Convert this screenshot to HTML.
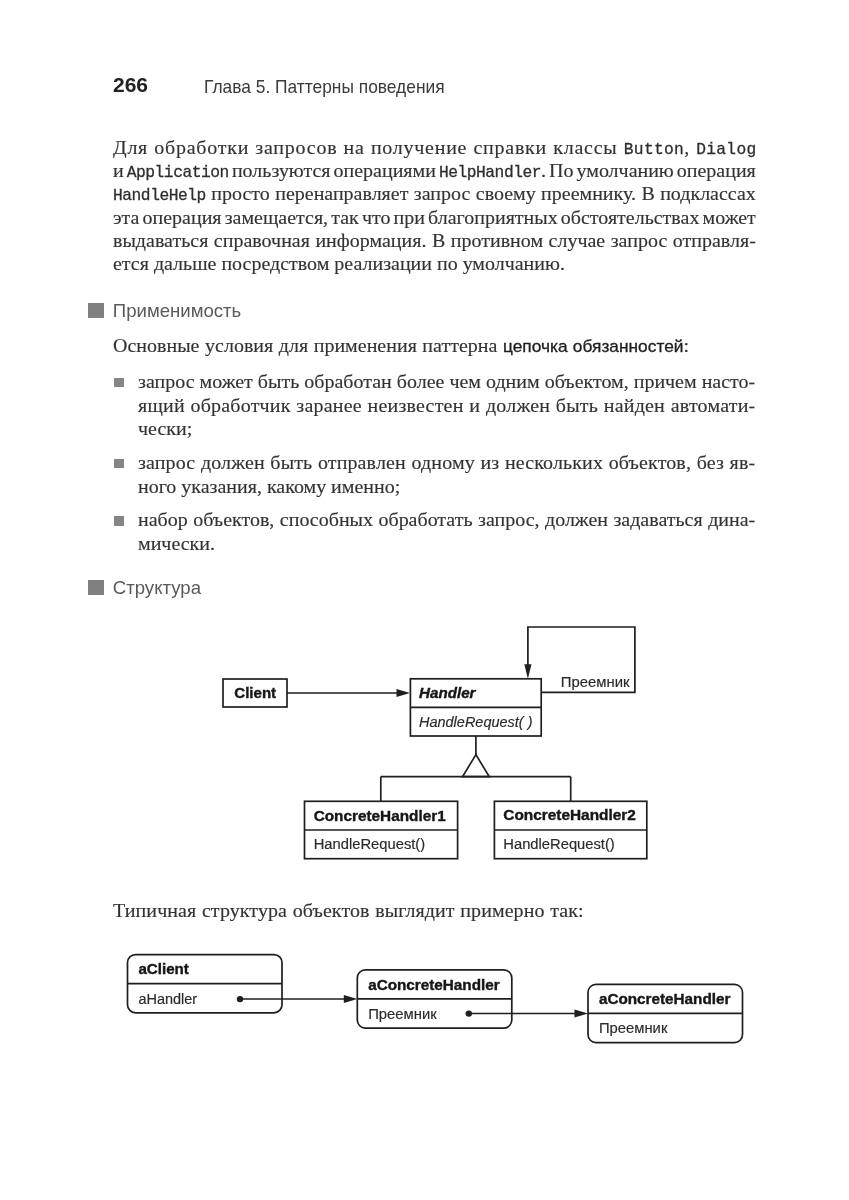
<!DOCTYPE html>
<html><head><meta charset="utf-8"><style>
html,body{margin:0;padding:0;background:#fff;}
body{width:849px;height:1200px;position:relative;overflow:hidden;filter:grayscale(1);}
.t{position:absolute;line-height:0;height:0;white-space:nowrap;color:#2e2e2e;}
.s{font-family:"Liberation Serif",serif;font-size:19.3px;-webkit-text-stroke:0.15px #333;color:#333;transform:scaleX(1.036);transform-origin:0 0;}
.j{}
.m{font-family:"Liberation Mono",monospace;font-size:15.7px;letter-spacing:-0.45px;-webkit-text-stroke:0.28px #2e2e2e;color:#2e2e2e;}
.m1{letter-spacing:0.3px;}
.k{font-family:"Liberation Sans",sans-serif;font-size:16.7px;color:#1e1e1e;-webkit-text-stroke:0.3px #1e1e1e;}
.pn{font-family:"Liberation Sans",sans-serif;font-size:21px;font-weight:bold;color:#222;}
.hd{font-family:"Liberation Sans",sans-serif;font-size:19px;color:#3a3a3a;transform:scaleX(0.914);transform-origin:0 0;}
.sh{font-family:"Liberation Sans",sans-serif;font-size:18.6px;color:#5a5a5a;}
.sq{position:absolute;width:15.5px;height:15px;background:#808080;}
.bs{position:absolute;width:10px;height:9.5px;background:#858585;}
svg{position:absolute;left:0;top:0;}
</style></head><body>
<div class="t pn" style="left:113.0px;top:85.20px;">266</div>
<div class="t hd" style="left:204.0px;top:87.20px;">Глава 5. Паттерны поведения</div>
<div class="t s j" style="left:112.8px;top:147.60px;width:620.46px;word-spacing:0.500px;letter-spacing:0.727px;">Для обработки запросов на получение справки классы <span class="m m1">Button</span>, <span class="m m1">Dialog</span></div>
<div class="t s j" style="left:112.8px;top:170.90px;width:620.46px;word-spacing:-1.898px;letter-spacing:0.000px;">и <span class="m">Application</span> пользуются операциями <span class="m">HelpHandler</span>. По умолчанию операция</div>
<div class="t s j" style="left:112.8px;top:194.10px;width:620.46px;word-spacing:0.430px;letter-spacing:0.000px;"><span class="m">HandleHelp</span> просто перенаправляет запрос своему преемнику. В подклассах</div>
<div class="t s j" style="left:112.8px;top:217.50px;width:620.46px;word-spacing:-1.780px;letter-spacing:0.000px;">эта операция замещается, так что при благоприятных обстоятельствах может</div>
<div class="t s j" style="left:112.8px;top:240.90px;width:620.46px;word-spacing:0.500px;letter-spacing:0.006px;">выдаваться справочная информация. В противном случае запрос отправля-</div>
<div class="t s" style="left:112.8px;top:264.20px;">ется дальше посредством реализации по умолчанию.</div>
<div class="sq" style="left:88px;top:303px;"></div>
<div class="t sh" style="left:112.8px;top:311.00px;">Применимость</div>
<div class="t s j" style="left:112.8px;top:346.00px;width:555.98px;word-spacing:0.500px;letter-spacing:0.015px;">Основные условия для применения паттерна <span class="k">цепочка обязанностей</span>:</div>
<div class="bs" style="left:114px;top:377.5px;"></div>
<div class="t s j" style="left:138.4px;top:381.60px;width:595.75px;word-spacing:0.047px;letter-spacing:0.000px;">запрос может быть обработан более чем одним объектом, причем насто-</div>
<div class="t s j" style="left:138.4px;top:405.60px;width:595.75px;word-spacing:0.500px;letter-spacing:0.200px;">ящий обработчик заранее неизвестен и должен быть найден автомати-</div>
<div class="t s" style="left:138.4px;top:429.10px;">чески;</div>
<div class="bs" style="left:114px;top:458.8px;"></div>
<div class="t s j" style="left:138.4px;top:462.80px;width:595.75px;word-spacing:0.500px;letter-spacing:0.128px;">запрос должен быть отправлен одному из нескольких объектов, без яв-</div>
<div class="t s" style="left:138.4px;top:486.70px;">ного указания, какому именно;</div>
<div class="bs" style="left:114px;top:516.2px;"></div>
<div class="t s j" style="left:138.4px;top:520.10px;width:595.75px;word-spacing:0.474px;letter-spacing:0.000px;">набор объектов, способных обработать запрос, должен задаваться дина-</div>
<div class="t s" style="left:138.4px;top:544.00px;">мически.</div>
<div class="sq" style="left:88px;top:580px;"></div>
<div class="t sh" style="left:112.8px;top:588.20px;">Структура</div>
<div class="t s j" style="left:112.8px;top:911.00px;width:454.15px;word-spacing:0.500px;letter-spacing:0.089px;">Типичная структура объектов выглядит примерно так:</div>
<svg width="849" height="1200" viewBox="0 0 849 1200">
<rect x="223.0" y="679.0" width="64.00" height="28.00" rx="0" fill="none" stroke="#1f1f1f" stroke-width="1.7"/>
<text x="234.3" y="698.2" font-family="Liberation Sans, sans-serif" font-size="13.8" font-weight="bold" font-style="normal" fill="#161616" stroke="#161616" stroke-width="0.35" textLength="41.8" lengthAdjust="spacingAndGlyphs">Client</text>
<line x1="287.0" y1="693.0" x2="398.0" y2="693.0" stroke="#1f1f1f" stroke-width="1.7"/>
<polygon points="410.00,693.00 396.50,689.10 396.50,696.90" fill="#1f1f1f" stroke="none" stroke-width="1.7" stroke-linejoin="miter"/>
<rect x="410.4" y="678.8" width="130.80" height="57.20" rx="0" fill="none" stroke="#1f1f1f" stroke-width="1.7"/>
<line x1="410.4" y1="707.4" x2="541.2" y2="707.4" stroke="#1f1f1f" stroke-width="1.7"/>
<text x="419.0" y="697.7" font-family="Liberation Sans, sans-serif" font-size="13.8" font-weight="bold" font-style="italic" fill="#161616" stroke="#161616" stroke-width="0.35" textLength="56.5" lengthAdjust="spacingAndGlyphs">Handler</text>
<text x="419.0" y="727.0" font-family="Liberation Sans, sans-serif" font-size="13.8" font-weight="normal" font-style="italic" fill="#2a2a2a" stroke="#2a2a2a" stroke-width="0.15" textLength="113.5" lengthAdjust="spacingAndGlyphs">HandleRequest( )</text>
<path d="M541.2,692.3 H634.9 V627.0 H527.9 V666" fill="none" stroke="#1f1f1f" stroke-width="1.7" stroke-linejoin="miter"/>
<polygon points="527.90,678.80 524.30,664.30 531.50,664.30" fill="#1f1f1f" stroke="none" stroke-width="1.7" stroke-linejoin="miter"/>
<text x="560.8" y="687.2" font-family="Liberation Sans, sans-serif" font-size="13.8" font-weight="normal" font-style="normal" fill="#2a2a2a" stroke="#2a2a2a" stroke-width="0.15" textLength="68.8" lengthAdjust="spacingAndGlyphs">Преемник</text>
<line x1="475.9" y1="736.0" x2="475.9" y2="755.0" stroke="#1f1f1f" stroke-width="1.7"/>
<polygon points="475.90,754.60 462.60,776.60 489.20,776.60" fill="#fff" stroke="#1f1f1f" stroke-width="1.7" stroke-linejoin="miter"/>
<line x1="380.8" y1="776.6" x2="570.7" y2="776.6" stroke="#1f1f1f" stroke-width="1.7"/>
<line x1="380.8" y1="776.6" x2="380.8" y2="801.3" stroke="#1f1f1f" stroke-width="1.7"/>
<line x1="570.7" y1="776.6" x2="570.7" y2="801.3" stroke="#1f1f1f" stroke-width="1.7"/>
<rect x="304.5" y="801.3" width="153.10" height="57.40" rx="0" fill="none" stroke="#1f1f1f" stroke-width="1.7"/>
<line x1="304.5" y1="830.0" x2="457.6" y2="830.0" stroke="#1f1f1f" stroke-width="1.7"/>
<text x="313.7" y="820.6" font-family="Liberation Sans, sans-serif" font-size="13.8" font-weight="bold" font-style="normal" fill="#161616" stroke="#161616" stroke-width="0.35" textLength="132.0" lengthAdjust="spacingAndGlyphs">ConcreteHandler1</text>
<text x="313.7" y="848.5" font-family="Liberation Sans, sans-serif" font-size="13.8" font-weight="normal" font-style="normal" fill="#2a2a2a" stroke="#2a2a2a" stroke-width="0.15" textLength="111.5" lengthAdjust="spacingAndGlyphs">HandleRequest()</text>
<rect x="494.4" y="801.3" width="152.40" height="57.40" rx="0" fill="none" stroke="#1f1f1f" stroke-width="1.7"/>
<line x1="494.4" y1="830.0" x2="646.8" y2="830.0" stroke="#1f1f1f" stroke-width="1.7"/>
<text x="503.3" y="820.0" font-family="Liberation Sans, sans-serif" font-size="13.8" font-weight="bold" font-style="normal" fill="#161616" stroke="#161616" stroke-width="0.35" textLength="132.5" lengthAdjust="spacingAndGlyphs">ConcreteHandler2</text>
<text x="503.3" y="848.7" font-family="Liberation Sans, sans-serif" font-size="13.8" font-weight="normal" font-style="normal" fill="#2a2a2a" stroke="#2a2a2a" stroke-width="0.15" textLength="111.5" lengthAdjust="spacingAndGlyphs">HandleRequest()</text>
<rect x="127.5" y="954.6" width="154.50" height="58.20" rx="8" fill="none" stroke="#1f1f1f" stroke-width="1.7"/>
<line x1="127.5" y1="983.6" x2="282.0" y2="983.6" stroke="#1f1f1f" stroke-width="1.7"/>
<text x="138.4" y="974.2" font-family="Liberation Sans, sans-serif" font-size="13.8" font-weight="bold" font-style="normal" fill="#161616" stroke="#161616" stroke-width="0.35" textLength="50.5" lengthAdjust="spacingAndGlyphs">aClient</text>
<text x="138.4" y="1003.6" font-family="Liberation Sans, sans-serif" font-size="13.8" font-weight="normal" font-style="normal" fill="#2a2a2a" stroke="#2a2a2a" stroke-width="0.15" textLength="58.8" lengthAdjust="spacingAndGlyphs">aHandler</text>
<rect x="357.3" y="969.9" width="154.50" height="58.20" rx="8" fill="none" stroke="#1f1f1f" stroke-width="1.7"/>
<line x1="357.3" y1="998.9" x2="511.8" y2="998.9" stroke="#1f1f1f" stroke-width="1.7"/>
<text x="368.2" y="989.5" font-family="Liberation Sans, sans-serif" font-size="13.8" font-weight="bold" font-style="normal" fill="#161616" stroke="#161616" stroke-width="0.35" textLength="131.5" lengthAdjust="spacingAndGlyphs">aConcreteHandler</text>
<text x="368.2" y="1018.9" font-family="Liberation Sans, sans-serif" font-size="13.8" font-weight="normal" font-style="normal" fill="#2a2a2a" stroke="#2a2a2a" stroke-width="0.15" textLength="68.5" lengthAdjust="spacingAndGlyphs">Преемник</text>
<rect x="588.0" y="984.4" width="154.50" height="58.20" rx="8" fill="none" stroke="#1f1f1f" stroke-width="1.7"/>
<line x1="588.0" y1="1013.4" x2="742.5" y2="1013.4" stroke="#1f1f1f" stroke-width="1.7"/>
<text x="598.9" y="1004.0" font-family="Liberation Sans, sans-serif" font-size="13.8" font-weight="bold" font-style="normal" fill="#161616" stroke="#161616" stroke-width="0.35" textLength="131.5" lengthAdjust="spacingAndGlyphs">aConcreteHandler</text>
<text x="598.9" y="1033.4" font-family="Liberation Sans, sans-serif" font-size="13.8" font-weight="normal" font-style="normal" fill="#2a2a2a" stroke="#2a2a2a" stroke-width="0.15" textLength="68.5" lengthAdjust="spacingAndGlyphs">Преемник</text>
<circle cx="240.0" cy="999.1" r="3.2" fill="#1f1f1f"/>
<line x1="240.0" y1="999.0" x2="346.0" y2="999.0" stroke="#1f1f1f" stroke-width="1.7"/>
<polygon points="357.30,999.00 343.80,995.10 343.80,1002.90" fill="#1f1f1f" stroke="none" stroke-width="1.7" stroke-linejoin="miter"/>
<circle cx="468.8" cy="1013.6" r="3.2" fill="#1f1f1f"/>
<line x1="468.8" y1="1013.5" x2="577.0" y2="1013.5" stroke="#1f1f1f" stroke-width="1.7"/>
<polygon points="588.00,1013.50 574.50,1009.60 574.50,1017.40" fill="#1f1f1f" stroke="none" stroke-width="1.7" stroke-linejoin="miter"/>
</svg>
</body></html>
